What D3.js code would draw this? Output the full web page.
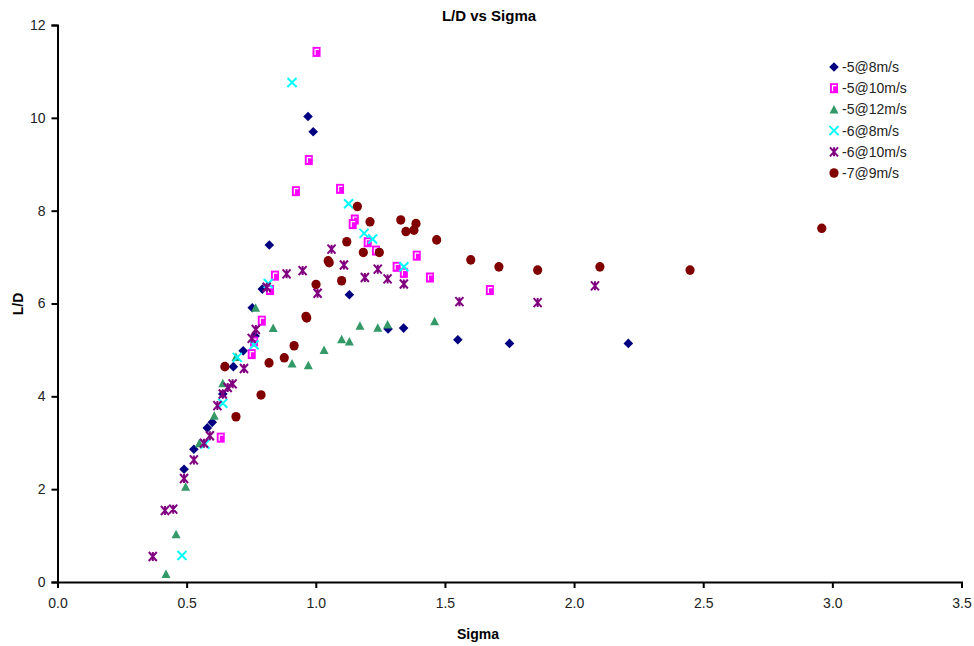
<!DOCTYPE html>
<html lang="en">
<head>
<meta charset="UTF-8">
<title>L/D vs Sigma</title>
<script src="https://cdnjs.cloudflare.com/ajax/libs/d3/7.8.0/d3.min.js"></script>
<style>
  body { margin: 0; background: #fff; }
  svg { font-family: "Liberation Sans", Arial, sans-serif; }
</style>
</head>
<body>
<svg id="viz" width="974" height="646"></svg>
<script>
// [sigma, L/D] pairs
const s5at8 = [[0.97,10.03],[0.99,9.70],[0.82,7.26],[1.13,6.19],[1.28,5.45],[1.34,5.47],[1.55,5.22],[1.75,5.14],[2.21,5.14],
  [0.793,6.31],[0.754,5.91],[0.765,5.30],[0.719,4.98],[0.681,4.64],[0.640,4.05],[0.599,3.44],[0.580,3.32],[0.528,2.86],[0.490,2.43]];
const s5at10 = [[1.003,11.42],[0.973,9.09],[0.923,8.42],[1.094,8.47],[1.151,7.81],[1.143,7.71],[1.201,7.32],[1.233,7.14],[1.391,7.03],
  [1.313,6.79],[1.341,6.66],[1.442,6.56],[1.674,6.29],[0.842,6.60],[0.823,6.29],[0.791,5.63],[0.761,5.18],[0.752,4.91],[0.632,3.11]];
const s5at12 = [[1.171,5.52],[1.240,5.48],[1.278,5.55],[1.100,5.23],[1.130,5.18],[1.032,5.00],[0.971,4.67],[0.908,4.71],[1.460,5.62],
  [0.767,5.91],[0.835,5.47],[0.691,4.85],[0.640,4.28],[0.607,3.58],[0.549,2.99],[0.496,2.05],[0.459,1.03],[0.420,0.17]];
const s6at8 = [[0.908,10.76],[1.127,8.15],[1.187,7.51],[1.220,7.39],[1.341,6.79],[0.816,6.43],[0.761,5.11],[0.696,4.84],
  [0.640,3.85],[0.571,2.97],[0.482,0.57]];
const s6at10 = [[1.061,7.17],[0.887,6.64],[0.949,6.71],[1.109,6.83],[1.190,6.56],[1.240,6.74],[1.278,6.53],[1.341,6.42],[1.007,6.22],
  [1.556,6.04],[1.859,6.02],[2.081,6.38],[0.810,6.35],[0.768,5.44],[0.752,5.25],[0.722,4.60],[0.678,4.27],[0.659,4.19],[0.640,4.05],
  [0.619,3.80],[0.590,3.15],[0.567,2.99],[0.528,2.63],[0.490,2.23],[0.416,1.54],[0.448,1.57],[0.369,0.55]];
const s7at9 = [[1.161,8.09],[1.210,7.76],[1.329,7.80],[1.388,7.72],[1.349,7.55],[1.380,7.58],[1.468,7.37],[1.120,7.33],[1.184,7.10],
  [1.246,7.10],[1.048,6.92],[1.052,6.88],[1.100,6.49],[1.001,6.41],[1.600,6.94],[1.709,6.79],[1.859,6.72],[2.100,6.79],[2.449,6.72],
  [2.959,7.62],[0.965,5.69],[0.962,5.72],[0.648,4.64],[0.916,5.09],[0.878,4.83],[0.819,4.72],[0.788,4.03],[0.691,3.56]];

const seriesNames = ["-5@8m/s", "-5@10m/s", "-5@12m/s", "-6@8m/s", "-6@10m/s", "-7@9m/s"];
const seriesData = [s5at8, s5at10, s5at12, s6at8, s6at10, s7at9];
const xTicks = [0, 0.5, 1, 1.5, 2, 2.5, 3, 3.5];
const yTicks = [0, 2, 4, 6, 8, 10, 12];

const colors = ["#000080", "#ff00ff", "#339966", "#00ffff", "#800080", "#800000"];
const shapes = ["diamond", "square", "triangle", "x", "star", "circle"];

const svg = d3.select("#viz");
const x = d3.scaleLinear().domain([0, 3.5]).range([57.5, 961.5]);
const y = d3.scaleLinear().domain([0, 12]).range([582, 25]);

// axes
const xAxis = svg.append("g").attr("transform", "translate(0,582)")
  .call(d3.axisBottom(x).tickValues(xTicks).tickFormat(d3.format(".1f")).tickSizeOuter(0).tickSize(6).tickPadding(10));
const yAxis = svg.append("g").attr("transform", "translate(57.5,0)")
  .call(d3.axisLeft(y).tickValues(yTicks).tickFormat(d3.format("d")).tickSizeOuter(0).tickSize(6).tickPadding(6));
[xAxis, yAxis].forEach(g => {
  g.select(".domain").attr("stroke", "#000").attr("stroke-width", 2);
  g.selectAll(".tick line").attr("stroke", "#000").attr("stroke-width", 2);
  g.selectAll(".tick text").attr("fill", "#222").attr("font-size", 14)
    .attr("font-family", "'Liberation Sans', Arial, sans-serif");
});

// draw a marker of a given shape into a group
function marker(g, shape, color) {
  if (shape === "diamond") {
    g.append("path").attr("d", "M0,-4.8L4.8,0L0,4.8L-4.8,0Z").attr("fill", color);
  } else if (shape === "square") {
    g.append("rect").attr("x", -4).attr("y", -5).attr("width", 8).attr("height", 10).attr("fill", color);
    g.append("path").attr("d", "M-1.5,3V-2.5H2.5").attr("fill", "none").attr("stroke", "#fff").attr("stroke-width", 1.2);
  } else if (shape === "triangle") {
    g.append("path").attr("d", "M0,-4.5L4.5,4L-4.5,4Z").attr("fill", color);
  } else if (shape === "x") {
    g.append("path").attr("d", "M-4.5,-4.5L4.5,4.5M4.5,-4.5L-4.5,4.5").attr("stroke", color).attr("stroke-width", 2);
  } else if (shape === "star") {
    g.append("path").attr("d", "M-4,-4.5L4,4.5M4,-4.5L-4,4.5M0,-4.5V4.5")
      .attr("stroke", color).attr("stroke-width", 2);
  } else {
    g.append("ellipse").attr("rx", 4.6).attr("ry", 4.8).attr("fill", color);
  }
}

seriesData.forEach((data, i) => {
  svg.append("g").selectAll("g").data(data).join("g")
    .attr("transform", d => `translate(${x(d[0])},${y(d[1])})`)
    .each(function () { marker(d3.select(this), shapes[i], colors[i]); });
});

// legend
const legend = svg.append("g");
seriesNames.forEach((name, i) => {
  const row = legend.append("g").attr("transform", `translate(834,${67 + i * 21.2})`);
  marker(row.append("g"), shapes[i], colors[i]);
  row.append("text").attr("x", 8).attr("y", 5).attr("font-size", 14).attr("fill", "#222").text(name);
});

// titles
svg.append("text").attr("x", 489).attr("y", 21).attr("text-anchor", "middle")
  .attr("font-size", 15).attr("font-weight", "bold").text("L/D vs Sigma");
svg.append("text").attr("x", 478).attr("y", 639).attr("text-anchor", "middle")
  .attr("font-size", 14).attr("font-weight", "bold").text("Sigma");
svg.append("text").attr("transform", "translate(23,304) rotate(-90)").attr("text-anchor", "middle")
  .attr("font-size", 14).attr("font-weight", "bold").text("L/D");
</script>
</body>
</html>
